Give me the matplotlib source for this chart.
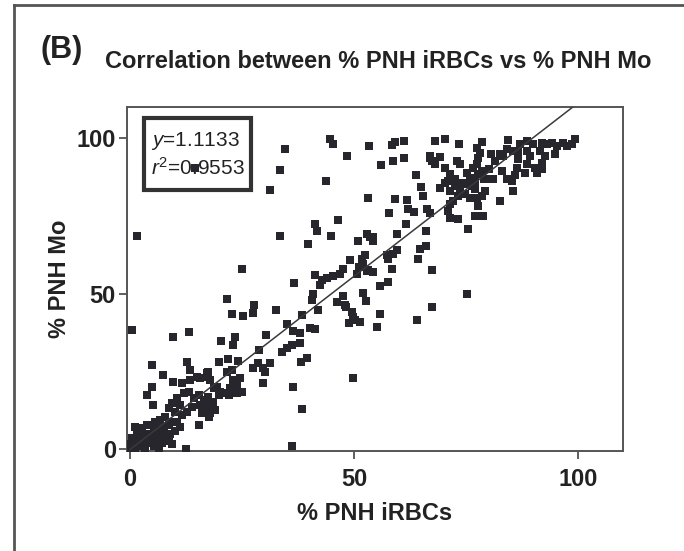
# correlation scatter: % PNH iRBCs vs % PNH Mo

import matplotlib
matplotlib.use("Agg")
import matplotlib.pyplot as plt
from matplotlib.lines import Line2D
from matplotlib.patches import Rectangle
import numpy as np

plt.rcParams['mathtext.fontset'] = 'custom'
plt.rcParams['mathtext.rm'] = 'Liberation Sans'
plt.rcParams['mathtext.it'] = 'Liberation Sans:italic'

title = "Correlation between % PNH iRBCs vs % PNH Mo"
panel = "(B)"
xlabel = "% PNH iRBCs"
ylabel = "% PNH Mo"
ticks = [0, 50, 100]
slope = 1.1133
r2 = 0.9553

# upper-left sparse points
x_upper = [34.6, 44.6, 45.3, 48.4, 53.3, 33.5, 43.8, 31.3, 53.1, 1.6, 33.5, 41.3, 41.7, 46.4,
           44.9, 39.7, 50.9, 52.9, 25.0, 36.6, 41.3, 42.9, 44.0, 45.3, 46.9, 49.1, 50.7, 14.5]
y_upper = [96.5, 99.7, 98.1, 94.2, 97.4, 89.8, 86.3, 83.4, 80.8, 68.7, 68.7, 72.5, 70.3, 73.8,
           68.7, 66.1, 66.8, 69.3, 58.1, 53.4, 55.9, 54.3, 55.0, 55.6, 56.5, 60.7, 56.5, 90.4]

# middle band (x 50-70)
x_mid = [58.5, 59.2, 61.2, 56.0, 58.7, 61.2, 67.0, 63.8, 65.0, 65.4, 59.2, 61.8, 62.1, 63.4,
         57.8, 66.3, 61.6, 66.1, 59.6, 54.2, 59.6, 58.7, 57.4, 64.7, 66.1, 52.5, 51.8, 64.3,
         67.0, 67.4, 57.6, 58.5, 52.9, 54.2, 57.6, 55.8, 53.6, 54.2, 52.0, 51.1, 47.5, 53.1]
y_mid = [97.8, 98.7, 99.0, 91.4, 92.7, 93.6, 93.6, 88.2, 84.3, 81.5, 80.5, 80.2, 77.3, 76.4,
         76.0, 77.3, 72.5, 70.3, 69.3, 68.1, 64.2, 62.9, 62.6, 64.5, 65.2, 62.6, 61.3, 61.3,
         76.0, 57.8, 61.3, 58.1, 57.2, 56.9, 53.7, 52.4, 68.1, 67.1, 59.7, 58.5, 58.1, 57.5]

# upper-right dense cluster
x_top = [68.1, 70.3, 73.4, 78.6, 77.5, 78.1, 84.4, 67.0, 67.4, 69.2, 68.1, 73.0, 73.7, 77.7,
         77.5, 70.3, 71.4, 72.5, 75.2, 75.9, 74.3, 77.0, 77.7, 78.6, 79.0, 81.0, 81.5, 82.6,
         84.2, 83.3, 85.5, 86.6, 87.1, 88.6, 90.0, 88.6, 89.3, 92.0, 93.1, 94.2, 95.3, 96.7,
         97.5, 99.3, 98.7, 91.5, 92.6, 92.0, 90.4, 92.0, 90.8, 94.9, 86.4, 88.2, 88.6, 84.2,
         85.3, 85.5, 82.6, 69.2, 70.3, 71.0, 72.5, 71.4, 73.7, 75.2, 76.3, 77.0, 73.2, 74.8,
         75.9, 77.5, 78.6, 72.1, 71.4, 77.7, 77.0, 78.8, 71.0, 71.4, 73.2, 75.4, 80.4, 79.2,
         80.0, 83.0, 86.0, 76.5, 80.5, 86.6, 92.0]
y_top = [99.0, 99.7, 98.1, 98.7, 96.8, 95.2, 99.4, 94.2, 92.7, 93.9, 91.7, 92.7, 91.7, 93.6,
         91.7, 90.4, 88.5, 86.9, 88.8, 87.2, 85.6, 86.3, 88.5, 89.5, 86.9, 86.9, 92.7, 94.9,
         96.5, 94.2, 95.8, 93.3, 98.1, 99.0, 98.1, 95.8, 94.2, 98.4, 98.1, 98.4, 97.4, 98.4,
         97.4, 99.7, 98.1, 95.8, 94.2, 92.0, 90.4, 91.1, 88.8, 94.9, 90.4, 88.8, 91.7, 86.9,
         86.3, 83.1, 79.9, 84.0, 85.6, 86.3, 84.7, 83.1, 84.0, 85.3, 84.7, 83.7, 81.5, 82.1,
         80.8, 80.8, 81.5, 79.9, 78.9, 78.3, 75.1, 75.1, 76.7, 74.4, 74.1, 70.9, 86.9, 83.1,
         90.0, 89.5, 88.0, 90.5, 95.0, 95.8, 90.1]

# points between 20 and 55 % iRBCs
x_lower = [42.4, 40.8, 40.6, 47.5, 46.2, 48.0, 49.6, 49.8, 52.0, 52.7, 55.8, 42.0, 38.4, 67.4,
           64.1, 55.1, 75.2, 51.3, 21.7, 27.7, 27.5, 25.2, 22.8, 32.6, 35.0, 36.4, 37.9, 40.2,
           41.3, 48.2, 50.2, 48.9, 0.4, 9.6, 13.2, 20.3, 23.4, 23.0, 30.4, 28.8, 33.9, 35.0,
           36.2, 37.9, 38.2, 39.5, 4.9, 12.7, 13.4, 7.4, 19.9, 21.9, 24.1, 22.8, 17.4, 27.5,
           29.7, 31.3, 28.6, 29.7, 23.0, 24.6, 23.9, 25.0, 36.4, 38.4, 36.2, 12.5, 49.8, 15.4,
           21.7, 30.1, 17.4]
y_lower = [52.7, 49.8, 47.9, 49.2, 47.3, 46.3, 44.1, 42.5, 50.2, 47.6, 43.5, 44.7, 43.1, 45.7,
           41.5, 39.3, 49.8, 40.9, 48.2, 46.3, 43.8, 42.8, 43.5, 44.7, 40.3, 38.0, 37.4, 39.0,
           38.7, 45.7, 41.5, 40.6, 38.3, 36.1, 37.7, 34.8, 36.1, 33.5, 36.7, 31.9, 31.3, 32.6,
           33.5, 34.2, 28.1, 29.4, 27.2, 28.1, 25.6, 24.0, 28.1, 29.1, 28.4, 25.6, 24.9, 26.2,
           26.2, 27.8, 27.8, 21.4, 22.4, 23.0, 20.8, 18.5, 20.1, 13.1, 1.0, 0.0, 23.0, 8.0,
           24.9, 24.9, 23.3]

# dense cluster near the origin
x_low = [4.9, 3.8, 5.1, 9.6, 11.6, 13.4, 15.0, 17.2, 17.9, 19.4, 20.1, 21.7, 23.9, 22.3,
         17.4, 18.5, 16.7, 16.1, 17.9, 18.3, 15.6, 18.8, 22.1, 19.9, 12.1, 13.2, 10.5, 9.4,
         8.7, 11.2, 14.3, 15.4, 16.5, 17.6, 16.7, 15.6, 13.8, 12.7, 11.6, 10.0, 7.8, 6.7,
         5.6, 7.1, 8.7, 9.4, 10.5, 11.2, 10.0, 8.9, 7.6, 17.6, 19.0, 3.8, 2.7, 1.6, 1.1,
         2.2, 3.1, 4.5, 5.4, 6.0, 6.5, 4.9, 3.8, 2.7, 1.1, 0.4, 0.0, 1.6, 3.3, 5.4, 6.0,
         7.1, 7.6, 8.7, 9.4, 6.5, 0.2, 0.5, 1.0]
y_low = [20.1, 17.6, 14.4, 21.7, 21.4, 22.4, 23.3, 24.6, 22.4, 20.1, 18.5, 18.2, 18.2, 19.8,
         16.9, 15.3, 14.4, 11.8, 11.8, 12.8, 23.0, 19.8, 17.6, 17.6, 18.2, 18.5, 16.6, 15.0,
         13.4, 14.4, 16.6, 17.6, 16.0, 15.0, 12.1, 14.4, 13.7, 12.1, 11.2, 12.1, 10.5, 9.6,
         8.9, 7.3, 8.0, 8.9, 8.9, 7.3, 5.8, 4.8, 5.4, 10.5, 12.8, 8.0, 7.0, 5.8, 7.3,
         5.4, 4.2, 4.8, 6.4, 5.4, 3.8, 2.6, 2.2, 2.6, 2.6, 3.8, 1.6, 1.0, 0.6, 1.0, 1.6,
         2.2, 3.2, 2.6, 1.6, 0.0, 0.3, 0.0, 0.5]

x = np.array(x_upper + x_mid + x_top + x_lower + x_low)
y = np.array(y_upper + y_mid + y_top + y_lower + y_low)

font = 'Liberation Sans'
ink = '#26262c'

fig = plt.figure(figsize=(6.84, 5.51), dpi=100)
ax = fig.add_axes([0.1857, 0.1815, 0.7251, 0.6243])

ax.scatter(x, y, marker='s', s=32, color=ink, linewidths=0, zorder=3)
xs = np.array([0, 110 / slope])
ax.plot(xs, slope * xs, color='#3a3a3a', lw=1.1, zorder=4)

ax.set_xlim(-0.7, 110)
ax.set_ylim(-0.5, 110)
ax.set_xticks(ticks)
ax.set_yticks(ticks)
ax.tick_params(direction='out', length=6, width=1.2, color='#444444')
ax.tick_params(axis='x', pad=6)
ax.tick_params(axis='y', pad=2)
for lab in ax.get_xticklabels() + ax.get_yticklabels():
    lab.set_family(font)
    lab.set_fontweight('bold')
    lab.set_fontsize(17)
    lab.set_color('#222222')
for sp in ax.spines.values():
    sp.set_color('#555555')
    sp.set_linewidth(1.4)

ax.set_xlabel(xlabel, family=font, fontweight='bold', fontsize=17, color='#222222', labelpad=8)
ax.set_ylabel(ylabel, family=font, fontweight='bold', fontsize=17, color='#222222', labelpad=4)

# equation box
ax.add_patch(Rectangle((0.034, 0.759), 0.216, 0.209, transform=ax.transAxes,
                       facecolor='white', edgecolor='#333333', lw=3, zorder=5))
ax.text(0.048, 0.901, r'$\mathit{y}$=%.4f' % slope, transform=ax.transAxes, va='center',
        fontsize=15, family=font, color='#222222', zorder=6)
ax.text(0.048, 0.822, r'$\mathit{r}^{\mathrm{2}}$=%.4f' % r2, transform=ax.transAxes, va='center',
        fontsize=15, family=font, color='#222222', zorder=6)
ax.scatter([x_upper[-1]], [y_upper[-1]], marker='s', s=32, color=ink, linewidths=0, zorder=7)

fig.text(40 / 684, 1 - 50 / 551, panel, family=font, fontweight='bold',
         fontsize=22, va='center', ha='left', color='#222222')
fig.text(105 / 684, 1 - 62 / 551, title, family=font, fontweight='bold',
         fontsize=17, va='center', ha='left', color='#222222')

# outer panel frame
fx = 14 / 684
fy = 1 - 5 / 551
fig.add_artist(Line2D([fx, fx], [0, fy], transform=fig.transFigure, color='#555555', lw=2))
fig.add_artist(Line2D([fx, 1], [fy, fy], transform=fig.transFigure, color='#555555', lw=2))

fig.savefig('out.png', dpi=100)
